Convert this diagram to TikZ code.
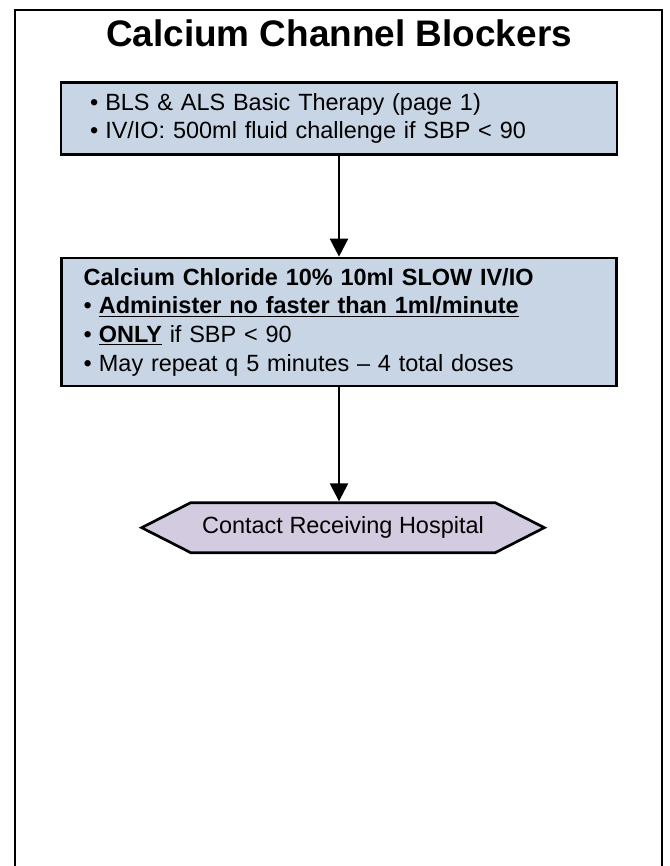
\documentclass[tikz,border=0pt]{standalone}
\usepackage{fontspec}
\setmainfont{Liberation Sans}
\usetikzlibrary{shapes,arrows.meta,positioning}

\definecolor{boxblue}{HTML}{C8D5E5}
\definecolor{hexlilac}{HTML}{D3CBDF}
\newcommand{\bul}{\textbullet\hspace{0.3em}}

\begin{document}
\begin{tikzpicture}[
    x=0.75pt, y=-0.75pt,
    stepbox/.style={rectangle, draw, line width=2pt, fill=boxblue, align=left, font=\fontsize{17.6}{21.5}\selectfont},
    endbox/.style={signal, signal to=west and east, signal pointer angle=54, draw, line width=2pt, fill=hexlilac, minimum width=302pt, minimum height=37.5pt, inner sep=0pt, font=\fontsize{17.6}{21.5}\selectfont},
    flow/.style={-{Triangle[length=13.5pt,width=13.5pt]}, line width=1.8pt}
]
\useasboundingbox (0,0) rectangle (669,866);
% outer frame, open at the bottom
\draw[line width=1.75pt] (15,880) -- (15,10) -- (662,10) -- (662,880);

\node[font=\fontsize{27.7}{32}\selectfont\bfseries, anchor=base] (title) at (339,47) {Calcium Channel Blockers};

% Basic therapy
\node[stepbox, anchor=north, minimum width=417pt, minimum height=54pt, inner xsep=21.75pt, text width=373.5pt] (basic) at (339,81)
    {\bul BLS \& ALS Basic Therapy (page 1)\\
     \bul IV/IO: 500ml fluid challenge if SBP < 90};

% Calcium chloride
\node[stepbox, below=75.75pt of basic, minimum width=416pt, minimum height=96pt, inner xsep=16.5pt, text width=383pt] (calcium)
    {\textbf{Calcium Chloride 10\% 10ml SLOW IV/IO}\\
     \bul\textbf{\underline{Administer no faster than 1ml/minute}}\\
     \bul\textbf{\underline{ONLY}} if SBP < 90\\
     \bul May repeat q 5 minutes -- 4 total doses};

% Hospital contact
\node[endbox, below=85.5pt of calcium, xshift=3pt] (contact) {Contact Receiving Hospital};

% Arrows
\draw[flow] (basic) -- (calcium);
\draw[flow] (calcium.south) -- (calcium.south |- contact.north);
\end{tikzpicture}
\end{document}
